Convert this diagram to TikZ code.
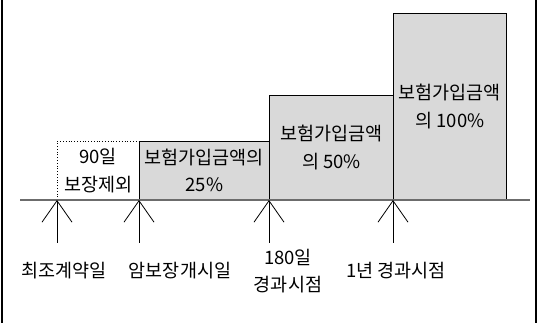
\documentclass[tikz,border=0pt]{standalone}
\usepackage{fontspec}
\newfontfamily\kr{Noto Sans CJK KR}
\usetikzlibrary{arrows.meta}
\tikzset{
  lbl/.style={font=\kr\fontsize{18.5}{27.5}\selectfont,align=center,inner sep=0pt},
  gbox/.style={lbl,draw=black,line width=0.8pt,fill=gray!30,anchor=south west},
  tick/.style={line width=0.8pt,-{Straight Barb[length=21.5pt,width=30pt,line width=0.8pt]}}
}
\begin{document}
\begin{tikzpicture}[x=1pt,y=-1pt]
\useasboundingbox (0,0) rectangle (541,323);
% frame
\draw[line width=1.5pt] (2,0) -- (2,323);
\draw[line width=1.5pt] (536,0) -- (536,323);
% benefit steps
\node[lbl,minimum width=82pt,minimum height=58pt,anchor=south west] (b0) at (57,200) {90일\\보장제외};
\draw[dotted,line width=0.8pt] (b0.south west) -- (b0.north west) -- (b0.north east);
\node[gbox,minimum width=130pt,minimum height=58pt] (b25) at (139,200) {보험가입금액의\\25\%};
\node[gbox,minimum width=124pt,minimum height=104pt] (b50) at (269,200) {보험가입금액\\의 50\%};
\node[gbox,minimum width=113pt,minimum height=186pt] (b100) at (393,200) {보험가입금액\\의 100\%};
% time axis
\coordinate (ax0) at (20,200);
\coordinate (ax1) at (530,200);
\draw[line width=1.6pt,gray!85!black] (ax0) -- (ax1);
% time points
\foreach \x/\lx/\name/\txt in {57/64/t0/최조계약일, 139/180/t1/암보장개시일, 269/288/t2/{180일\\경과시점}, 393/396/t3/1년 경과시점} {
  \coordinate (\name top) at (\x,200);
  \coordinate (\name foot) at (\x,243);
  \draw[tick] (\name foot) -- (\name top);
  \node[lbl] (\name) at (\lx,271) {\txt};
}
\end{tikzpicture}
\end{document}
